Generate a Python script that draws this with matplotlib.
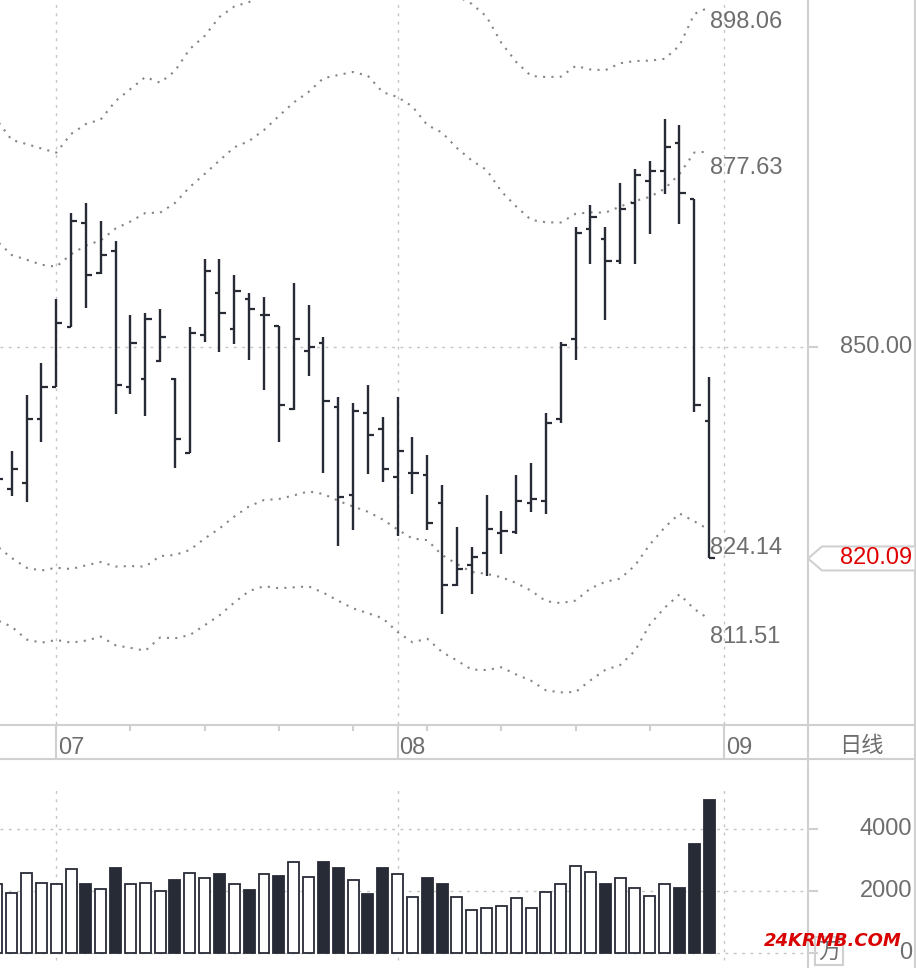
import numpy as np
import matplotlib
matplotlib.use('Agg')
import matplotlib.pyplot as plt
import matplotlib.transforms as mtrans
from matplotlib.lines import Line2D
from matplotlib.patches import Polygon

plt.rcParams['font.family'] = ['Liberation Sans', 'Noto Sans CJK SC', 'DejaVu Sans']

# daily OHLC, late June .. end of August
opens = [830.60, 829.87, 830.72, 839.82, 844.34, 852.83, 867.54, 860.47, 863.58, 844.34,
         845.47, 848.02, 845.47, 835.01, 851.70, 857.64, 852.55, 856.79, 854.53, 852.97,
         841.23, 849.43, 850.61, 841.51, 829.07, 840.66, 838.40, 831.61, 832.18, 831.90,
         827.93, 816.34, 819.17, 820.86, 823.69, 823.88, 827.93, 828.22, 839.82, 851.13,
         866.69, 865.28, 862.16, 870.37, 873.48, 874.89, 878.85, 870.93, 839.53]
highs = [832.60, 835.29, 843.21, 847.74, 856.79, 868.95, 870.37, 867.82, 864.99, 854.53,
         854.81, 855.37, 845.62, 852.83, 862.45, 862.45, 860.18, 857.64, 857.07, 853.01,
         859.05, 855.94, 851.46, 842.93, 842.08, 844.63, 840.10, 842.93, 837.27, 834.72,
         830.48, 824.54, 821.71, 829.07, 826.80, 831.90, 833.59, 840.66, 850.75, 866.97,
         870.08, 866.97, 873.20, 875.18, 876.31, 882.25, 881.40, 870.93, 845.76]
lows = [829.77, 828.97, 828.12, 836.61, 844.30, 852.83, 855.56, 860.37, 840.57, 843.39,
        840.28, 847.92, 832.93, 835.01, 850.75, 849.34, 850.47, 848.20, 843.96, 836.61,
        841.13, 845.94, 832.14, 821.90, 824.16, 832.08, 830.95, 823.31, 829.25, 824.16,
        812.28, 816.24, 815.11, 817.65, 820.76, 823.59, 826.70, 826.42, 839.21, 848.20,
        861.78, 853.86, 861.78, 861.78, 866.03, 871.68, 867.44, 840.85, 820.09]
closes = [831.29, 832.79, 839.82, 844.34, 853.39, 867.82, 860.18, 863.01, 844.63, 850.57,
          853.96, 851.41, 836.99, 851.98, 860.75, 854.81, 857.92, 855.37, 854.53, 841.80,
          851.13, 850.00, 842.40, 828.78, 840.95, 837.55, 832.74, 835.29, 832.18, 825.11,
          816.34, 818.60, 820.30, 824.26, 823.97, 828.22, 828.50, 839.25, 850.28, 866.12,
          868.39, 862.16, 869.52, 874.33, 874.89, 878.29, 871.78, 841.80, 820.09]
volumes = [2217, 1945, 2593, 2269, 2217, 2722, 2227, 2074, 2745, 2217,
           2269, 2009, 2356, 2593, 2411, 2551, 2217, 2032, 2541, 2486,
           2930, 2463, 2940, 2745, 2346, 1902, 2745, 2541, 1815, 2421,
           2227, 1821, 1374, 1439, 1504, 1763, 1439, 1958, 2217, 2800,
           2606, 2227, 2411, 2087, 1828, 2217, 2097, 3523, 4949]

# band lines (outer pair and inner pair)
outer_up = [882.11, 879.28, 878.71, 878.08, 877.48, 880.13, 881.54, 882.18, 884.79, 886.49,
            888.19, 887.38, 889.04, 892.15, 893.99, 896.68, 898.16, 898.80, 899.79, 900.78,
            901.91, 903.04, 903.75, 904.31, 904.74, 904.74, 904.46, 903.75, 903.04, 901.91,
            900.78, 899.65, 898.54, 896.72, 893.00, 890.31, 888.33, 888.19, 888.23, 889.75,
            889.25, 889.15, 890.13, 890.45, 890.50, 890.76, 892.63, 897.10, 898.06]
inner_up = [864.99, 863.01, 862.35, 861.64, 861.36, 863.11, 864.36, 865.09, 866.76, 867.75,
            868.95, 869.00, 870.37, 872.63, 874.47, 876.38, 878.25, 879.14, 880.69, 882.67,
            884.58, 886.07, 888.01, 888.47, 888.90, 888.37, 886.04, 885.36, 884.02, 881.40,
            880.33, 878.15, 876.38, 875.04, 871.99, 869.87, 867.98, 867.64, 867.61, 868.84,
            869.04, 869.00, 869.86, 870.65, 871.23, 872.38, 874.47, 877.51, 877.63]
inner_dn = [821.85, 820.16, 818.78, 818.39, 818.78, 818.60, 819.12, 819.59, 818.95, 819.02,
            818.94, 820.44, 820.58, 821.29, 822.91, 824.33, 826.03, 827.47, 828.36, 828.50,
            829.01, 829.58, 829.21, 828.26, 827.44, 826.70, 825.60, 824.19, 822.91, 822.69,
            820.58, 819.31, 818.18, 817.92, 817.44, 816.62, 815.53, 814.05, 813.78, 814.14,
            815.86, 816.79, 817.24, 819.09, 822.07, 824.47, 826.45, 825.35, 824.14]
outer_dn = [811.39, 810.44, 808.63, 808.18, 808.56, 808.19, 808.47, 809.04, 807.81, 807.45,
            807.04, 808.91, 808.80, 809.26, 810.65, 812.05, 813.86, 815.49, 816.17, 815.88,
            816.01, 816.15, 815.25, 814.12, 813.04, 812.35, 811.64, 809.69, 808.25, 808.74,
            806.86, 805.66, 804.37, 804.31, 804.70, 803.68, 802.80, 801.44, 801.15, 801.20,
            802.86, 804.33, 805.02, 807.03, 810.74, 813.13, 815.02, 812.94, 811.51]

month_first = [4, 27, 49]
month_labels = ['07', '08', '09']
week_ticks = [9, 14, 19, 24, 29, 34, 39, 44]
price_ticks = [850, 900]
vol_ticks = [0, 2000, 4000]

dark = '#272b36'
band_col = '#858585'
grid_col = '#c4c4c4'
frame_col = '#d0d0d0'
txt_col = '#6e6e6e'
fs = 17

W, H = 916, 968


def box(x0, y0, x1, y1):
    return [x0 / W, 1 - y1 / H, (x1 - x0) / W, (y1 - y0) / H]


fig = plt.figure(figsize=(W / 100, H / 100), dpi=100)
ax = fig.add_axes(box(0, 0, 808, 724))
ax_d = fig.add_axes(box(0, 724, 808, 759))
ax_v = fig.add_axes(box(0, 760, 808, 968))

xlim = (0.21, 54.66)
for a in (ax, ax_d, ax_v):
    a.set_xlim(*xlim)
    a.set_axis_off()
ax.set_ylim(796.68, 899.08)
ax_v.set_ylim(-496, 6245)
ax_d.set_ylim(0, 1)

x = np.arange(len(closes))
o = np.array(opens)
c = np.array(closes)

# grid
grid_kw = dict(color=grid_col, lw=1.0, linestyle=(0, (2, 4)), zorder=0)
ax.axhline(850, **grid_kw)
for m in month_first:
    ax.axvline(m, **grid_kw)
    ax_v.axvline(m, ymin=0.04, ymax=0.86, **grid_kw)
for v in vol_ticks:
    ax_v.axhline(v, **grid_kw)

# bands
band_kw = dict(color=band_col, lw=1.5, linestyle=(0, (1, 3)), zorder=1)
for band in (outer_up, inner_up, inner_dn, outer_dn):
    ax.plot(x, band, **band_kw)

# OHLC bars
ax.vlines(x, lows, highs, color=dark, lw=1.7, zorder=3)
ax.hlines(opens, x - 0.3, x, color=dark, lw=1.6, zorder=3)
ax.hlines(closes, x, x + 0.42, color=dark, lw=1.6, zorder=3)

# band end values
for band, dy in ((outer_up, -15), (inner_up, -16), (inner_dn, -18), (outer_dn, -18)):
    ax.annotate('%.2f' % band[-1], xy=(x[-1], band[-1]), xytext=(1, dy),
                textcoords='offset pixels', ha='left', va='center',
                fontsize=fs, color=txt_col, annotation_clip=False, zorder=5)

# volume
up = c >= o
vol = np.array(volumes)
ax_v.bar(x[up], vol[up], width=0.74, color='white', edgecolor=dark, lw=1.3, zorder=2)
ax_v.bar(x[~up], vol[~up], width=0.74, color=dark, edgecolor=dark, lw=1.3, zorder=2)

# right price scale
bt = mtrans.blended_transform_factory(fig.transFigure, ax.transData)
for p in price_ticks:
    ax.plot([808 / W, 817 / W], [p, p], transform=bt, color=frame_col, lw=1.5, clip_on=False)
    ax.text(912 / W, p, '%.2f' % p, transform=bt, ha='right', va='center',
            fontsize=fs, color=txt_col, clip_on=False)

bv = mtrans.blended_transform_factory(fig.transFigure, ax_v.transData)
for v in vol_ticks:
    ax_v.plot([808 / W, 817 / W], [v, v], transform=bv, color=frame_col, lw=1.5, clip_on=False)
    ax_v.text(912 / W, v, str(v), transform=bv, ha='right', va='center',
              fontsize=fs, color=txt_col, clip_on=False)

# last price marker
yl = fig.transFigure.inverted().transform(ax.transData.transform((0, closes[-1])))[1]
hh = 12 / H
pts = [(808 / W, yl), (822 / W, yl + hh), (915.5 / W, yl + hh), (915.5 / W, yl - hh), (822 / W, yl - hh)]
fig.add_artist(Polygon(pts, closed=True, transform=fig.transFigure, facecolor='white',
                       edgecolor=frame_col, lw=1.5, zorder=4))
fig.text(912 / W, yl, '%.2f' % closes[-1], ha='right', va='center', fontsize=fs,
         color='#e00000', zorder=5)

# date strip
ax_d.vlines(month_first, 0, 1, color=frame_col, lw=1.5)
ax_d.vlines(week_ticks, 0.8, 1, color=frame_col, lw=1.5)
for m, lab in zip(month_first, month_labels):
    ax_d.annotate(lab, xy=(m, 0.3), xytext=(2, 0), textcoords='offset pixels',
                  ha='left', va='center', fontsize=fs, color=txt_col, annotation_clip=False)
fig.text(861 / W, 1 - 745 / H, '日线', ha='center', va='center', fontsize=16,
         color=txt_col, family='Noto Sans CJK SC')

# frame lines
for yy in (725, 759):
    fig.add_artist(Line2D([0, 1], [1 - yy / H, 1 - yy / H], color=frame_col, lw=1.5))
for xx in (808, 915):
    fig.add_artist(Line2D([xx / W, xx / W], [0, 1], color=frame_col, lw=1.5))

# unit box and watermark
fig.text(829 / W, 1 - 951 / H, '万', ha='center', va='center', fontsize=16, color=txt_col,
         family='Noto Sans CJK SC',
         bbox=dict(boxstyle='square,pad=0.12', fc='none', ec=frame_col, lw=1.5))
fig.text(833 / W, 1 - 941 / H, '24KRMB.COM', ha='center', va='center', fontsize=13,
         color='#d80000', fontweight='bold', style='italic', family='DejaVu Sans', zorder=6)

fig.savefig('out.png', dpi=100)
